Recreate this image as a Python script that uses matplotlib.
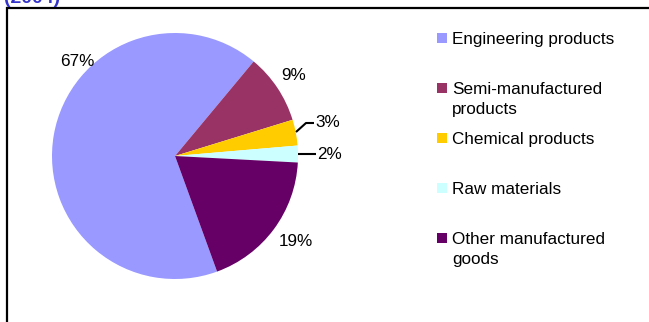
import matplotlib.pyplot as plt

categories = ['Engineering products', 'Semi-manufactured\nproducts', 'Chemical products',
              'Raw materials', 'Other manufactured\ngoods']
shares = [66.6, 9.2, 3.4, 2.2, 18.6]
pct_labels = ['67%', '9%', '3%', '2%', '19%']
colors = ['#9999FF', '#993366', '#FFCC00', '#CCFFFF', '#660066']

W, H = 649, 322
plt.rcParams['font.family'] = ['Liberation Sans', 'DejaVu Sans']
FS = 12.3

fig = plt.figure(figsize=(W / 100, H / 100), dpi=100)
ax = fig.add_axes([0, 0, 1, 1])

# pie in pixel units (y measured up from bottom)
cx, cy, r = 175, H - 156, 123
ax.pie(shares, colors=colors, startangle=290, counterclock=False,
       center=(cx, cy), radius=r, wedgeprops=dict(linewidth=0))
ax.set_xlim(0, W)
ax.set_ylim(0, H)
ax.set_aspect('equal')
ax.axis('off')

# percent labels (pixel positions, y from top)
label_pos = [(77, 61), (294, 75), (328, 122), (330, 154), (296, 241)]
for txt, (x, y) in zip(pct_labels, label_pos):
    ax.text(x, H - y, txt, fontsize=FS, ha='center', va='center')

# leader lines for small slices
ax.plot([296, 306, 314], [H - 132, H - 123, H - 123], color='black', lw=1.5,
        solid_capstyle='butt')
ax.plot([298, 316], [H - 154, H - 154], color='black', lw=1.5, solid_capstyle='butt')

# legend drawn by hand to keep the spacing of the original
for i, (name, c) in enumerate(zip(categories, colors)):
    yc = 38 + 50 * i
    ax.add_patch(plt.Rectangle((437, H - yc - 5), 10, 10, color=c, lw=0))
    for k, line in enumerate(name.split('\n')):
        ax.text(452, H - (yc + 6 + 20 * k), line, fontsize=FS, ha='left',
                va='baseline')

# chart frame (cut off on the right and bottom)
ax.plot([6.5, 6.5, W + 5], [-5, H - 7.5, H - 7.5], color='black', lw=1.6,
        solid_joinstyle='miter')

# title, mostly outside the picture
ax.text(4, H - 2.5, '(2004)', fontsize=14, fontweight='bold', color='#3333CC',
        ha='left', va='baseline')

fig.savefig('out.png', dpi=100)
